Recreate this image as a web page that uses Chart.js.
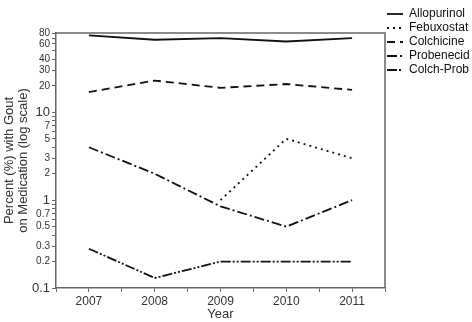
<!DOCTYPE html>
<html lang="en">
<head>
  <meta charset="UTF-8">
  <title>Gout medication use</title>
  <script src="https://cdn.jsdelivr.net/npm/chart.js"></script>
  <style>
    html, body { margin: 0; padding: 0; background: #fff; }
    #wrap { width: 472px; height: 322px; position: relative; }
  </style>
</head>
<body>
  <div id="wrap"><canvas id="chart"></canvas></div>

  <script>
    // data
    const years = [2007, 2008, 2009, 2010, 2011];
    const allopurinol = [75, 67, 70, 64, 70];
    const febuxostat = [null, null, 1, 5, 3];
    const colchicine = [17, 23, 19, 21, 18];
    const probenecid = [4, 2, 0.85, 0.5, 1];
    const colchProb = [0.28, 0.13, 0.2, 0.2, 0.2];

    const yTickMarks = [0.1, 0.2, 0.3, 0.4, 0.5, 0.6, 0.7, 0.8, 0.9,
      1, 2, 3, 4, 5, 6, 7, 8, 9, 10, 20, 30, 40, 50, 60, 70, 80];
    const yTickLabels = [0.1, 0.2, 0.3, 0.5, 0.7, 1, 2, 3, 5, 7, 10, 20, 30, 40, 60, 80];
    const yBigLabels = [0.1, 1, 10];

    const FONT = "Arial, 'Liberation Sans', sans-serif";
    const INK = '#111';
    const AXIS = '#666';

    function points(values) {
      return years.map((y, i) => ({ x: y, y: values[i] })).filter(p => p.y !== null);
    }

    function series(label, values, dash) {
      return {
        label: label,
        data: points(values),
        borderColor: INK,
        backgroundColor: INK,
        borderWidth: 1.8,
        borderDash: dash,
        pointRadius: 0,
        tension: 0,
        fill: false
      };
    }

    // box around the plot (top and right sides)
    const frame = {
      id: 'frame',
      afterDraw(chart) {
        const a = chart.chartArea;
        const ctx = chart.ctx;
        ctx.save();
        ctx.strokeStyle = AXIS;
        ctx.lineWidth = 1.5;
        ctx.beginPath();
        ctx.moveTo(a.left, a.top);
        ctx.lineTo(a.right, a.top);
        ctx.lineTo(a.right, a.bottom);
        ctx.stroke();
        ctx.restore();
      }
    };

    const ctx = document.getElementById('chart').getContext('2d');
    new Chart(ctx, {
      type: 'line',
      data: {
        datasets: [
          series('Allopurinol', allopurinol, []),
          series('Febuxostat', febuxostat, [2, 4]),
          series('Colchicine', colchicine, [8, 5]),
          series('Probenecid', probenecid, [10, 3, 2, 3]),
          series('Colch-Prob', colchProb, [10, 2, 2, 2, 2, 2])
        ]
      },
      options: {
        responsive: true,
        maintainAspectRatio: false,
        animation: false,
        layout: { padding: { top: 6, right: 0, left: 2, bottom: 0 } },
        plugins: {
          tooltip: { enabled: false },
          // empty title over the plot only, so the legend can sit higher than the plot
          title: {
            display: true,
            text: '',
            fullSize: false,
            padding: 0,
            font: { size: 27, lineHeight: 1 }
          },
          legend: {
            position: 'right',
            align: 'start',
            maxWidth: 87,
            labels: {
              usePointStyle: true,
              pointStyle: 'line',
              pointStyleWidth: 16,
              boxWidth: 16,
              padding: 2,
              color: '#111',
              font: { family: FONT, size: 12 },
              // keep the dash pattern of each line in its legend sample
              generateLabels: chart =>
                Chart.defaults.plugins.legend.labels.generateLabels(chart).map((item, i) => ({
                  ...item,
                  lineDash: chart.data.datasets[i].borderDash,
                  lineWidth: 1.8
                }))
            }
          }
        },
        scales: {
          x: {
            type: 'linear',
            min: 2006.5,
            max: 2011.5,
            afterFit: scale => { scale.height = 34; },
            grid: { drawOnChartArea: false, drawTicks: true, tickLength: 4, color: AXIS },
            border: { color: AXIS, width: 1.5 },
            ticks: {
              stepSize: 0.5,
              autoSkip: false,
              maxRotation: 0,
              color: '#333',
              padding: 2,
              font: { family: FONT, size: 12 },
              callback: v => Number.isInteger(v) ? String(v) : ''
            },
            title: {
              display: true,
              text: 'Year',
              color: '#333',
              padding: { top: 0, bottom: 0 },
              font: { family: FONT, size: 13 }
            }
          },
          y: {
            type: 'logarithmic',
            min: 0.1,
            max: 80,
            afterFit: scale => { scale.width = 54; },
            afterBuildTicks: scale => {
              scale.ticks = yTickMarks.map(v => ({ value: v }));
            },
            grid: { drawOnChartArea: false, drawTicks: true, tickLength: 4, color: AXIS },
            border: { color: AXIS, width: 1.5 },
            ticks: {
              autoSkip: false,
              color: '#333',
              padding: 2,
              font: c => ({ family: FONT, size: c.tick && yBigLabels.includes(c.tick.value) ? 13 : 10 }),
              callback: v => yTickLabels.includes(v) ? String(v) : ''
            },
            title: {
              display: true,
              text: ['Percent (%) with Gout', 'on Medication (log scale)'],
              color: '#333',
              padding: { top: 0, bottom: 2 },
              font: { family: FONT, size: 13, lineHeight: 1.1 }
            }
          }
        }
      },
      plugins: [frame]
    });
  </script>
</body>
</html>
